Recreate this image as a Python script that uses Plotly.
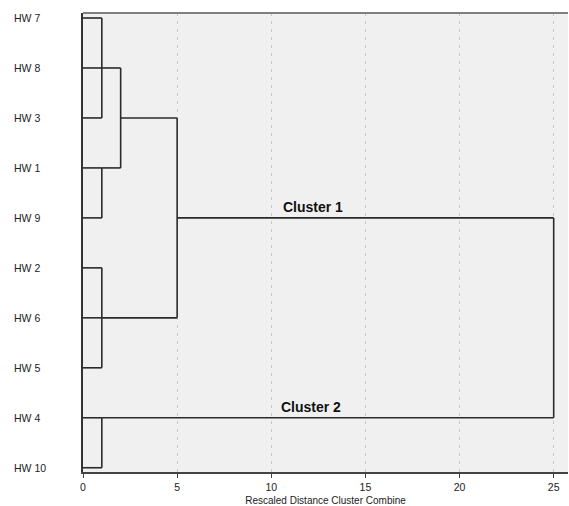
import plotly.graph_objects as go

# ---- data ----
leaves = ["HW 7", "HW 8", "HW 3", "HW 1", "HW 9", "HW 2", "HW 6", "HW 5", "HW 4", "HW 10"]
merge_names = ["A", "B", "C", "D", "E", "F", "G"]
merge_children = [
    ["HW 7", "HW 8", "HW 3"],
    ["HW 1", "HW 9"],
    ["HW 2", "HW 6", "HW 5"],
    ["HW 4", "HW 10"],
    ["A", "B"],
    ["E", "C"],
    ["F", "D"],
]
merge_distance = [1, 1, 1, 1, 2, 5, 25]
cluster_labels = ["Cluster 1", "Cluster 2"]
cluster_nodes = ["F", "D"]
cluster_label_x = [12.2, 12.1]
x_ticks = [0, 5, 10, 15, 20, 25]

# ---- build dendrogram segments ----
row = {name: i for i, name in enumerate(leaves)}
dist = {name: 0 for name in leaves}
xs, ys = [], []
for name, children, d in zip(merge_names, merge_children, merge_distance):
    child_rows = [row[c] for c in children]
    for c in children:
        xs += [dist[c], d, None]
        ys += [row[c], row[c], None]
    xs += [d, d, None]
    ys += [min(child_rows), max(child_rows), None]
    row[name] = int(sum(child_rows) // len(child_rows))
    dist[name] = d

W, H = 569, 506
ml, mr, mt, mb = 83, 1, 13, 34
pw = W - ml - mr

fig = go.Figure()
fig.add_trace(go.Scatter(x=xs, y=ys, mode="lines",
                         line=dict(color="#2a2a2a", width=1.6),
                         hoverinfo="skip", showlegend=False))

for lab, node, lx in zip(cluster_labels, cluster_nodes, cluster_label_x):
    fig.add_annotation(x=lx, y=row[node], text="<b>" + lab + "</b>",
                       showarrow=False, yanchor="bottom", yshift=1,
                       font=dict(size=14, color="#111"))

for name in leaves:
    fig.add_annotation(x=(12 - ml) / pw, xref="paper", y=row[name], yref="y",
                       text=name, showarrow=False, xanchor="left",
                       font=dict(size=10.5, color="#222"))

fig.add_shape(type="line", xref="paper", yref="paper", x0=0, x1=1, y0=1, y1=1,
              line=dict(color="#808080", width=2))

fig.update_layout(
    width=W, height=H,
    margin=dict(l=ml, r=mr, t=mt, b=mb),
    paper_bgcolor="white", plot_bgcolor="#f0f0f0",
    font=dict(family="Liberation Sans, Arial, sans-serif", color="#222"),
    xaxis=dict(range=[0, 25.76], tickvals=x_ticks, showgrid=True,
               gridcolor="#c8c8c8", griddash="3px,5px", gridwidth=1,
               zeroline=False, showline=True, linecolor="#444", linewidth=2,
               ticks="outside", ticklen=4, tickcolor="#444",
               tickfont=dict(size=10.5, color="#222"),
               title=dict(text="Rescaled Distance Cluster Combine",
                          font=dict(size=10, color="#222"), standoff=5)),
    yaxis=dict(range=[9.085, -0.1], showticklabels=False, showgrid=False,
               zeroline=False, showline=True, linecolor="#333", linewidth=1.5,
               ticks=""),
)

fig.write_html("out.html", config={"displayModeBar": False},
               post_script="document.body.style.margin='0';document.body.style.overflow='hidden';")
